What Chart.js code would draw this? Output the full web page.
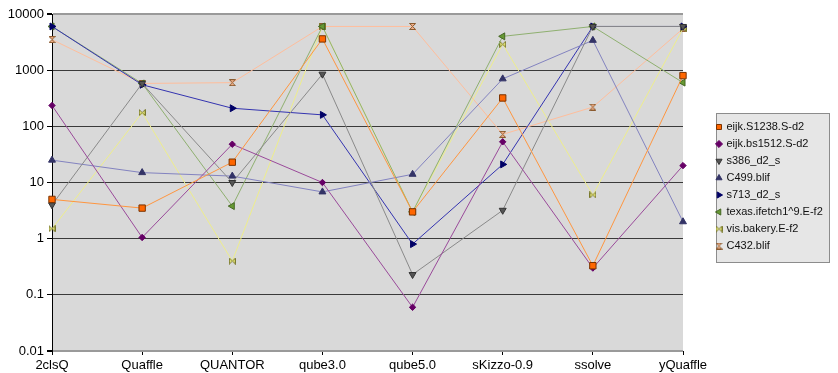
<!DOCTYPE html>
<html><head><meta charset="utf-8">
<script src="https://cdn.jsdelivr.net/npm/chart.js@4"></script>
<style>html,body{margin:0;padding:0;background:#fff;}canvas{display:block;}</style>
</head><body>
<canvas id="c" width="838" height="373"></canvas>
<script>
const categories = ['2clsQ','Quaffle','QUANTOR','qube3.0','qube5.0','sKizzo-0.9','ssolve','yQuaffle'];
const yTicks = [0.01, 0.1, 1, 10, 100, 1000, 10000];
const seriesNames = ['eijk.S1238.S-d2','eijk.bs1512.S-d2','s386_d2_s','C499.blif','s713_d2_s','texas.ifetch1^9.E-f2','vis.bakery.E-f2','C432.blif'];
const eijkS1238 = [5, 3.5, 23, 3600, 3, 320, 0.33, 800];
const eijkBs1512 = [235, 1.05, 48, 10, 0.06, 53, 0.3, 20];
const s386 = [4, 580, 10, 850, 0.23, 3.2, 6000, 6000];
const c499 = [25, 15, 13, 6.8, 14, 700, 3400, 2];
const s713 = [6000, 550, 210, 160, 0.8, 21, 6000, 6000];
const texas = [6000, 580, 3.8, 6000, 3, 4000, 6000, 600];
const visBakery = [1.5, 175, 0.4, 6000, 3, 2900, 6, 5500];
const c432 = [3500, 580, 600, 6000, 6000, 72, 220, 5500];

function makeIcon(kind, fill, stroke) {
  const c = document.createElement('canvas');
  c.width = 7; c.height = 7;
  const g = c.getContext('2d');
  g.fillStyle = fill; g.strokeStyle = stroke; g.lineWidth = 1;
  g.beginPath();
  if (kind === 'bowtie') {
    g.moveTo(0.5, 0.5); g.lineTo(3.5, 3.5); g.lineTo(0.5, 6.5); g.closePath();
    g.moveTo(6.5, 0.5); g.lineTo(3.5, 3.5); g.lineTo(6.5, 6.5); g.closePath();
  } else {
    g.moveTo(0.5, 0.5); g.lineTo(6.5, 0.5); g.lineTo(3.5, 3.5); g.closePath();
    g.moveTo(0.5, 6.5); g.lineTo(6.5, 6.5); g.lineTo(3.5, 3.5); g.closePath();
  }
  g.fill(); g.stroke();
  return c;
}
const bowtie = makeIcon('bowtie', '#E6E67A', '#7A7A2E');
const hourglass = makeIcon('hourglass', '#F2B08A', '#8A5A2E');

function ds(label, data, line, fill, border, style, radius, rotation) {
  return {
    label, data,
    borderColor: line, backgroundColor: fill, borderWidth: 1,
    pointStyle: style, pointRadius: radius, pointHoverRadius: radius,
    pointRotation: rotation || 0,
    pointBackgroundColor: fill, pointBorderColor: border, pointBorderWidth: 1,
    tension: 0, fill: false
  };
}

const datasets = [
  ds(seriesNames[0], eijkS1238, '#FF9640', '#FF6600', '#7A3300', 'rect', 4.5),
  ds(seriesNames[1], eijkBs1512, '#9A4A9A', '#660066', '#660066', 'rectRot', 3.2),
  ds(seriesNames[2], s386, '#8A8A8A', '#555555', '#333333', 'triangle', 4, 180),
  ds(seriesNames[3], c499, '#8383C0', '#333366', '#333366', 'triangle', 4),
  ds(seriesNames[4], s713, '#3434B0', '#000066', '#000066', 'triangle', 4, 90),
  ds(seriesNames[5], texas, '#8FB070', '#669933', '#446622', 'triangle', 4, 270),
  ds(seriesNames[6], visBakery, '#EEEE8C', '#E6E67A', '#7A7A2E', bowtie, 4),
  ds(seriesNames[7], c432, '#FFBE9C', '#F2B08A', '#8A5A2E', hourglass, 4)
];

const LEGEND_W = 155;
const custom = {
  id: 'custom',
  beforeLayout(chart) {
    const lg = chart.legend;
    if (lg && !lg._patched) {
      const f = lg.fit;
      lg.fit = function () { f.apply(this, arguments); if (!this.isHorizontal()) this.width = LEGEND_W; };
      lg._patched = true;
    }
  },
  afterLayout(chart) {
    const lg = chart.legend;
    lg.left = 711; lg.top = 115.5;
  },
  beforeDraw(chart) {
    const {ctx, chartArea: a} = chart;
    ctx.save();
    ctx.fillStyle = '#D9D9D9';
    ctx.fillRect(a.left, a.top, a.right - a.left, a.bottom - a.top);
    const lg = chart.legend;
    const hb = lg.legendHitBoxes;
    if (hb && hb.length) {
      let r = 0;
      hb.forEach(h => { r = Math.max(r, h.left + h.width); });
      const l = Math.round(lg.left + 5) + 0.5;
      const t = Math.round(hb[0].top - 9) + 0.5;
      const b = Math.round(hb[hb.length - 1].top + hb[hb.length - 1].height + 10) + 0.5;
      const rr = Math.round(r + 6) + 0.5;
      ctx.fillStyle = '#E6E6E6';
      ctx.fillRect(l, t, rr - l, b - t);
      ctx.strokeStyle = '#8C8C8C';
      ctx.lineWidth = 1;
      ctx.strokeRect(l, t, rr - l, b - t);
    }
    ctx.restore();
  }
};

new Chart(document.getElementById('c'), {
  type: 'line',
  data: { labels: categories, datasets },
  options: {
    responsive: false, animation: false, devicePixelRatio: 1,
    layout: { padding: { top: 14, left: 0, right: 0, bottom: 0 } },
    plugins: {
      legend: {
        position: 'right', align: 'start',
        labels: {
          usePointStyle: true, boxWidth: 4, boxHeight: 5, padding: 6,
          color: '#111', font: { family: 'Liberation Sans', size: 11 }
        }
      },
      tooltip: { enabled: false }
    },
    scales: {
      x: {
        type: 'category', offset: false,
        afterFit(s) { s.height = 22; },
        grid: { display: true, drawOnChartArea: false, drawTicks: true, tickLength: 4, color: '#000', tickColor: '#000' },
        border: { display: false },
        ticks: { color: '#000', padding: 3, maxRotation: 0, autoSkip: false, font: { family: 'Liberation Sans', size: 13 } }
      },
      y: {
        type: 'logarithmic', min: 0.01, max: 10000,
        afterFit(s) { s.width = 52; },
        afterBuildTicks(s) { s.ticks = yTicks.map(v => ({ value: v })); },
        grid: {
          drawTicks: true, tickLength: 5, tickColor: '#000',
          color: c => (c.tick && (c.tick.value === 10000 || c.tick.value === 0.01)) ? '#9A9A9A' : '#3A3A3A',
          lineWidth: c => (c.tick && (c.tick.value === 10000 || c.tick.value === 0.01)) ? 2 : 1
        },
        border: { display: true, color: '#000', width: 1 },
        ticks: {
          color: '#000', padding: 3, font: { family: 'Liberation Sans', size: 13 },
          callback: v => yTicks.includes(v) ? String(v) : ''
        }
      }
    }
  },
  plugins: [custom]
});
</script>
</body></html>
